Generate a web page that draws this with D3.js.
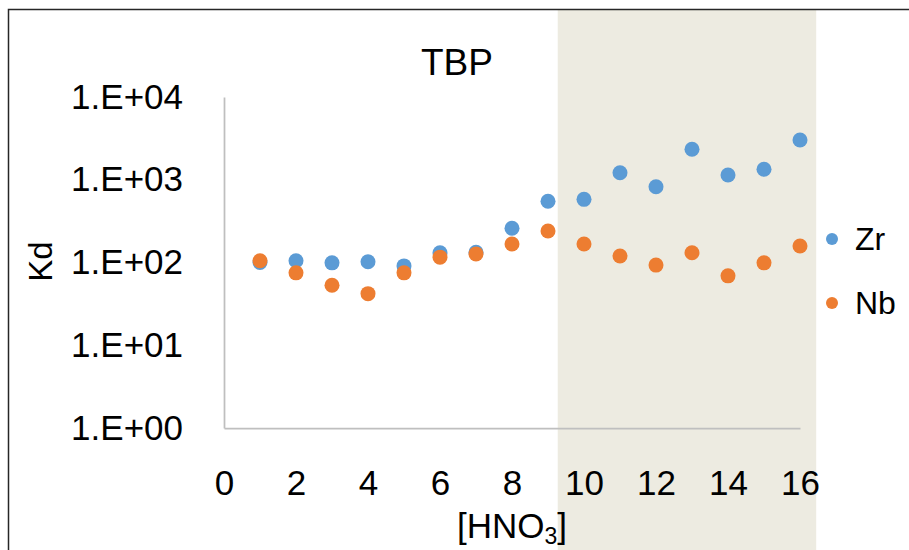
<!DOCTYPE html>
<html>
<head>
<meta charset="utf-8">
<script src="https://cdn.jsdelivr.net/npm/d3@7"></script>
<style>
  body { margin: 0; background: #fff; }
  svg { display: block; font-family: "Liberation Sans", Arial, sans-serif; }
</style>
</head>
<body>
<svg id="chart" width="909" height="550"></svg>
<script>
// data
var hno3 = [1, 2, 3, 4, 5, 6, 7, 8, 9, 10, 11, 12, 13, 14, 15, 16];
var zrKd = [100, 105, 99, 102, 91, 131, 133, 259, 549, 580, 1217, 824, 2333, 1141, 1337, 3020];
var nbKd = [105, 75, 53, 42, 75, 116, 127, 167, 240, 167, 120, 93, 131, 69, 99, 158];
var xTicks = [0, 2, 4, 6, 8, 10, 12, 14, 16];
var yTicks = [1, 10, 100, 1000, 10000];
var shadeRange = [9.27, 16.45];
var seriesNames = ["Zr", "Nb"];
var seriesColors = ["#5B9BD5", "#ED7D31"];

var svg = d3.select("#chart");

var x = d3.scaleLinear().domain([0, 16]).range([224, 800]);
var y = d3.scaleLog().domain([1, 10000]).range([428, 97]);

// shaded band behind everything
svg.append("rect")
    .attr("x", x(shadeRange[0]))
    .attr("y", 10)
    .attr("width", x(shadeRange[1]) - x(shadeRange[0]))
    .attr("height", 540)
    .attr("fill", "#EDEBE1");

// outer frame (only top and left show in the picture)
svg.append("path")
    .attr("d", "M8.5,560 L8.5,9.5 L920,9.5")
    .attr("fill", "none")
    .attr("stroke", "#262626")
    .attr("stroke-width", 1.5);

// title
svg.append("text")
    .attr("x", 457)
    .attr("y", 75)
    .attr("text-anchor", "middle")
    .attr("font-size", 37)
    .attr("fill", "#000")
    .text("TBP");

// axes
var fmt = function(d) {
  var e = Math.round(Math.log10(d));
  return "1.E+" + (e < 10 ? "0" : "") + e;
};

var yAxis = svg.append("g")
    .attr("transform", "translate(" + x(0) + ",0)")
    .call(d3.axisLeft(y).tickValues(yTicks).tickFormat(fmt).tickSize(0).tickSizeOuter(0).tickPadding(41));

var xAxis = svg.append("g")
    .attr("transform", "translate(0," + y(1) + ")")
    .call(d3.axisBottom(x).tickValues(xTicks).tickFormat(d3.format("d")).tickSize(0).tickSizeOuter(0).tickPadding(42));

[xAxis, yAxis].forEach(function(ax) {
  ax.select(".domain").attr("stroke", "#BFBFBF").attr("stroke-width", 1.75);
  ax.selectAll("text")
      .attr("font-size", 35)
      .attr("font-family", "\"Liberation Sans\", Arial, sans-serif")
      .attr("fill", "#000");
});

// axis titles
svg.append("text")
    .attr("transform", "translate(52,261.5) rotate(-90)")
    .attr("text-anchor", "middle")
    .attr("font-size", 33)
    .attr("fill", "#000")
    .text("Kd");

var xt = svg.append("text")
    .attr("x", 512)
    .attr("y", 538)
    .attr("text-anchor", "middle")
    .attr("font-size", 35)
    .attr("fill", "#000");
xt.append("tspan").text("[HNO");
xt.append("tspan").attr("font-size", 23).attr("dy", 6).text("3");
xt.append("tspan").attr("dy", -6).text("]");

// points
var seriesData = [zrKd, nbKd];
seriesData.forEach(function(vals, i) {
  svg.append("g").selectAll("circle")
      .data(hno3)
      .join("circle")
      .attr("cx", function(d) { return x(d); })
      .attr("cy", function(d, j) { return y(vals[j]); })
      .attr("r", 7.5)
      .attr("fill", seriesColors[i]);
});

// legend
var legend = svg.append("g").selectAll("g")
    .data(seriesNames)
    .join("g")
    .attr("transform", function(d, i) { return "translate(832," + (239 + i * 64) + ")"; });

legend.append("circle")
    .attr("r", 6)
    .attr("fill", function(d, i) { return seriesColors[i]; });

legend.append("text")
    .attr("x", 23)
    .attr("y", 11)
    .attr("font-size", 32)
    .attr("fill", "#000")
    .text(function(d) { return d; });
</script>
</body>
</html>
